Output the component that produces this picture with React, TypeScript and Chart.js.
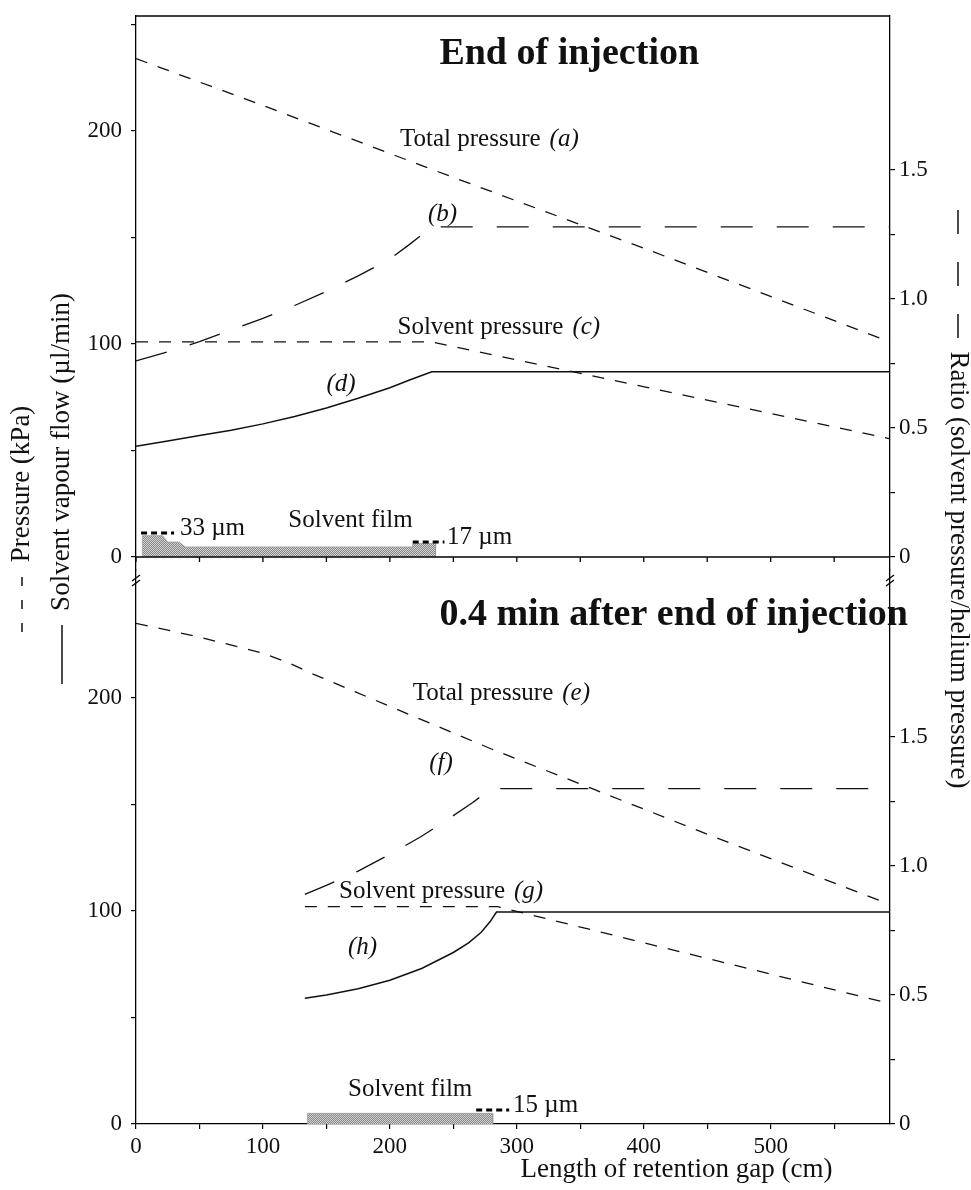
import React, { useEffect, useRef } from 'react';
import { Chart, registerables } from 'chart.js';

Chart.register(...registerables);

const SERIF = "'Liberation Serif', 'Times New Roman', serif";

// Axis ticks
const xTickValues = [0, 50, 100, 150, 200, 250, 300, 350, 400, 450, 500, 550];
const xLabelValues = [0, 100, 200, 300, 400, 500];
const leftTopTickValues = [0, 50, 100, 150, 200, 250];
const leftBottomTickValues = [0, 50, 100, 150, 200];
const leftLabelValues = [0, 100, 200];
const rightTickValues = [0, 0.25, 0.5, 0.75, 1, 1.25, 1.5];
const rightLabelValues = [0, 0.5, 1, 1.5];

// Top panel: End of injection
const totalPressureA_x = [0, 100, 233, 400, 594];
const totalPressureA_y = [234, 212, 182, 145, 101];
const ratioB_x = [0, 25, 50, 75, 100, 125, 150, 175, 200, 215, 233, 594];
const ratioB_y = [0.76, 0.795, 0.835, 0.88, 0.925, 0.975, 1.03, 1.09, 1.155, 1.21, 1.28, 1.28];
const solventPressureC_x = [0, 233, 594];
const solventPressureC_y = [101, 101, 55.5];
const vapourFlowD_x = [0, 25, 50, 75, 100, 125, 150, 175, 200, 215, 233, 594];
const vapourFlowD_y = [52, 54.5, 57, 59.5, 62.5, 66, 70, 74.5, 79.5, 83, 87, 87];
const filmTop_x = [5, 5, 21, 25, 34, 39, 218, 218, 236, 236];
const filmTop_y = [0, 10, 10, 7, 7, 4.7, 4.7, 6.3, 6.3, 0];

// Bottom panel: 0.4 min after end of injection
const totalPressureE_x = [0, 50, 100, 120, 140, 170, 200, 280, 361, 450, 594];
const totalPressureE_y = [235, 228.5, 221, 216.5, 211, 203.5, 196, 176, 157, 136, 103];
const ratioF_x = [133, 150, 175, 200, 225, 250, 265, 280, 594];
const ratioF_y = [0.89, 0.925, 0.98, 1.045, 1.115, 1.195, 1.245, 1.3, 1.3];
const solventPressureG_x = [133, 285, 594];
const solventPressureG_y = [102, 102, 56.5];
const vapourFlowH_x = [133, 150, 175, 200, 225, 250, 262, 272, 279, 284, 594];
const vapourFlowH_y = [59, 60.5, 63.5, 67.5, 73, 80.5, 85, 90, 95, 99.5, 99.5];
const filmBottom_x = [135, 135, 281, 281];
const filmBottom_y = [0, 5, 5, 0];

function pts(xs: number[], ys: number[]) {
  return xs.map((x, i) => ({ x, y: ys[i] }));
}

const F_TXT = `25px ${SERIF}`;
const F_IT = `italic 25px ${SERIF}`;
const F_TITLE = `27px ${SERIF}`;
const F_HEAD = `bold 38px ${SERIF}`;

const decor = {
  id: 'decor',
  afterDraw(chart: any) {
    const { ctx, chartArea: ca, scales } = chart;
    const xs = scales.x, yt = scales.yTop, yb = scales.yBot;
    const X = (v: number) => xs.getPixelForValue(v);
    const YT = (v: number) => yt.getPixelForValue(v);
    const YB = (v: number) => yb.getPixelForValue(v);
    ctx.save();
    ctx.strokeStyle = '#000';
    ctx.fillStyle = '#111';
    ctx.lineWidth = 1.3;
    const seg = (x1: number, y1: number, x2: number, y2: number) => {
      ctx.beginPath(); ctx.moveTo(x1, y1); ctx.lineTo(x2, y2); ctx.stroke();
    };
    // top frame line
    seg(ca.left, ca.top, ca.right, ca.top);
    // top panel baseline with ticks
    const y0 = YT(0);
    seg(ca.left, y0, ca.right, y0);
    xTickValues.forEach((v) => seg(X(v), y0, X(v), y0 + 5));
    // axis break marks
    const by = yt.bottom + 6;
    [ca.left, ca.right].forEach((bx: number) => {
      seg(bx - 4, by + 5, bx + 4, by - 1);
      seg(bx - 4, by + 10, bx + 4, by + 4);
    });

    const txt = (s: string, x: number, y: number, font: string, align: CanvasTextAlign = 'left') => {
      ctx.font = font; ctx.textAlign = align; ctx.textBaseline = 'middle';
      ctx.fillText(s, x, y);
    };
    const mixed = (s: string, it: string, x: number, y: number) => {
      txt(s, x, y, F_TXT);
      ctx.font = F_TXT;
      const w = ctx.measureText(s).width;
      txt(it, x + w + 9, y, F_IT);
    };
    const thickDash = (x1: number, x2: number, y: number) => {
      ctx.save(); ctx.lineWidth = 3; ctx.setLineDash([6, 4]);
      seg(x1, y, x2, y); ctx.restore();
    };

    // Top panel annotations
    txt('End of injection', X(239), YT(236), F_HEAD);
    mixed('Total pressure', '(a)', X(208), YT(196));
    txt('(b)', X(230), YT(161), F_IT);
    mixed('Solvent pressure', '(c)', X(206), YT(108));
    txt('(d)', X(150), YT(81), F_IT);
    txt('Solvent film', X(120), YT(17), F_TXT);
    thickDash(X(4), X(30), YT(11.3));
    txt('33 µm', X(34.6), YT(13.2), F_TXT);
    thickDash(X(218), X(243), YT(7));
    txt('17 µm', X(245), YT(9), F_TXT);

    // Bottom panel annotations
    txt('0.4 min after end of injection', X(239), YB(239), F_HEAD);
    mixed('Total pressure', '(e)', X(218), YB(202));
    txt('(f)', X(231), YB(169), F_IT);
    mixed('Solvent pressure', '(g)', X(160), YB(109));
    txt('(h)', X(167), YB(83), F_IT);
    txt('Solvent film', X(167), YB(16), F_TXT);
    thickDash(X(268), X(294), YB(6.6));
    txt('15 µm', X(297), YB(8.9), F_TXT);

    // x axis title
    txt('Length of retention gap (cm)', X(303), ca.bottom + 46, F_TITLE);

    // left axis titles (rotated)
    ctx.save(); ctx.translate(22, 484); ctx.rotate(-Math.PI / 2);
    txt('Pressure (kPa)', 0, 0, F_TITLE, 'center'); ctx.restore();
    ctx.lineWidth = 1.4;
    seg(22, 577, 22, 586); seg(22, 600, 22, 609); seg(22, 623, 22, 632);
    ctx.save(); ctx.translate(62, 452); ctx.rotate(-Math.PI / 2);
    txt('Solvent vapour flow (µl/min)', 0, 0, F_TITLE, 'center'); ctx.restore();
    seg(62, 625, 62, 684);

    // right axis title (rotated)
    ctx.save(); ctx.translate(958, 570); ctx.rotate(Math.PI / 2);
    txt('Ratio (solvent pressure/helium pressure)', 0, 0, F_TITLE, 'center'); ctx.restore();
    seg(958, 210, 958, 234); seg(958, 262, 958, 286); seg(958, 314, 958, 338);
    ctx.restore();
  },
};

function yAxis(position: 'left' | 'right', stack: string, weight: number, min: number, max: number, tickValues: number[]) {
  const right = position === 'right';
  return {
    type: 'linear',
    position,
    stack,
    stackWeight: 1,
    weight,
    min,
    max,
    afterFit: (s: any) => { s.width = right ? 81 : 136; s.paddingTop = 0; s.paddingBottom = 0; },
    afterBuildTicks: (s: any) => {
      s.ticks = tickValues.map((v) => ({ value: v }));
    },
    ticks: {
      autoSkip: false,
      font: { family: SERIF, size: 23 },
      color: '#111',
      padding: right ? 4 : 9,
      callback: (v: number) => {
        if (right) {
          if (!rightLabelValues.includes(v)) return '';
          return v === 0 ? '0' : v.toFixed(1);
        }
        return leftLabelValues.includes(v) ? String(v) : '';
      },
    },
    grid: { drawOnChartArea: false, tickLength: 5, color: '#000', lineWidth: 1.2 },
    border: { color: '#000', width: 1.3 },
  };
}

export default function App() {
  const ref = useRef<HTMLCanvasElement>(null);
  useEffect(() => {
    const canvas = ref.current!;
    const pc = document.createElement('canvas');
    pc.width = 2; pc.height = 2;
    const pctx = pc.getContext('2d')!;
    pctx.fillStyle = '#8a8a8a'; pctx.fillRect(0, 0, 2, 2);
    pctx.fillStyle = '#d0d0d0'; pctx.fillRect(0, 0, 1, 1); pctx.fillRect(1, 1, 1, 1);
    const pattern = canvas.getContext('2d')!.createPattern(pc, 'repeat');

    const dashShort = [12, 11];
    const dashLong = [32, 24];
    const base = { pointRadius: 0, borderColor: '#111', borderWidth: 1.3, tension: 0, fill: false };
    const datasets: any[] = [
      { ...base, label: 'Solvent film (top)', data: pts(filmTop_x, filmTop_y), yAxisID: 'yTop', fill: 'origin', backgroundColor: pattern, borderColor: '#999', borderWidth: 0.8 },
      { ...base, label: 'Total pressure (a)', data: pts(totalPressureA_x, totalPressureA_y), yAxisID: 'yTop', borderDash: dashShort },
      { ...base, label: 'Ratio (b)', data: pts(ratioB_x, ratioB_y), yAxisID: 'rTop', borderDash: dashLong },
      { ...base, label: 'Solvent pressure (c)', data: pts(solventPressureC_x, solventPressureC_y), yAxisID: 'yTop', borderDash: dashShort },
      { ...base, label: 'Solvent vapour flow (d)', data: pts(vapourFlowD_x, vapourFlowD_y), yAxisID: 'yTop', borderWidth: 1.5 },
      { ...base, label: 'Solvent film (bottom)', data: pts(filmBottom_x, filmBottom_y), yAxisID: 'yBot', fill: 'origin', backgroundColor: pattern, borderColor: '#999', borderWidth: 0.8 },
      { ...base, label: 'Total pressure (e)', data: pts(totalPressureE_x, totalPressureE_y), yAxisID: 'yBot', borderDash: dashShort },
      { ...base, label: 'Ratio (f)', data: pts(ratioF_x, ratioF_y), yAxisID: 'rBot', borderDash: dashLong },
      { ...base, label: 'Solvent pressure (g)', data: pts(solventPressureG_x, solventPressureG_y), yAxisID: 'yBot', borderDash: dashShort },
      { ...base, label: 'Solvent vapour flow (h)', data: pts(vapourFlowH_x, vapourFlowH_y), yAxisID: 'yBot', borderWidth: 1.5 },
    ];

    const chart = new Chart(canvas, {
      type: 'line',
      data: { datasets },
      options: {
        responsive: false,
        animation: false,
        events: [],
        layout: { padding: { top: 16, left: 0, right: 0, bottom: 0 } },
        plugins: { legend: { display: false }, tooltip: { enabled: false }, title: { display: false } },
        scales: {
          x: {
            type: 'linear',
            position: 'bottom',
            min: 0,
            max: 594,
            afterFit: (s: any) => { s.height = 66; s.paddingLeft = 0; s.paddingRight = 0; },
            afterBuildTicks: (s: any) => { s.ticks = xTickValues.map((v) => ({ value: v })); },
            ticks: {
              autoSkip: false,
              maxRotation: 0,
              font: { family: SERIF, size: 23 },
              color: '#111',
              padding: 4,
              callback: (v: number) => (xLabelValues.includes(v) ? String(v) : ''),
            },
            grid: { drawOnChartArea: false, tickLength: 5, color: '#000', lineWidth: 1.2 },
            border: { color: '#000', width: 1.3 },
          },
          yTop: yAxis('left', 'left', 1, -6.1, 254, leftTopTickValues),
          yBot: yAxis('left', 'left', 0, 0, 260, leftBottomTickValues),
          rTop: yAxis('right', 'right', 0, -0.05, 2.097, rightTickValues),
          rBot: yAxis('right', 'right', 1, 0, 2.147, rightTickValues),
        } as any,
      },
      plugins: [decor],
    } as any);
    return () => chart.destroy();
  }, []);
  return (
    <div style={{ position: 'absolute', left: 0, top: 0, width: 971, height: 1190, background: '#fff' }}>
      <canvas ref={ref} width={971} height={1190} style={{ display: 'block' }} />
    </div>
  );
}
